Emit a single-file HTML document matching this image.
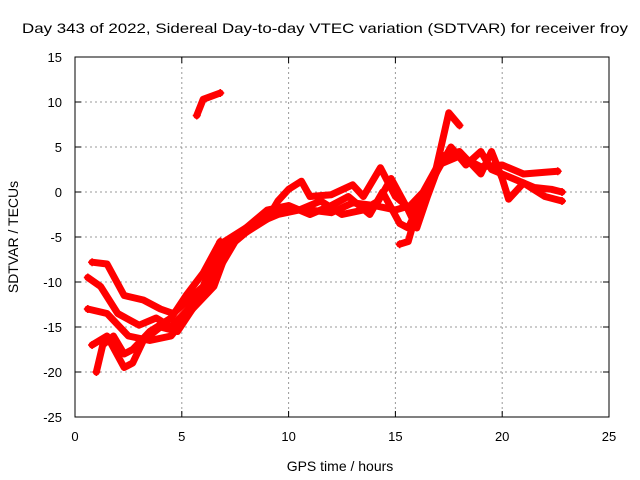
<!DOCTYPE html>
<html><head><meta charset="utf-8"><style>
body{margin:0;background:#fff}
svg{display:block;font-family:"Liberation Sans",sans-serif}
</style></head><body>
<svg id="chart" width="640" height="480" viewBox="0 0 640 480">
<rect width="640" height="480" fill="#fff"/>
<text x="22" y="33" font-size="14" textLength="606" lengthAdjust="spacingAndGlyphs">Day 343 of 2022, Sidereal Day-to-day VTEC variation (SDTVAR) for receiver froy</text>
<g id="grid"></g>
<g id="axes"></g>
<g id="series"></g>
<text x="340" y="471" font-size="14" text-anchor="middle">GPS time / hours</text>
<text transform="translate(18,237) rotate(-90)" font-size="14" text-anchor="middle">SDTVAR / TECUs</text>
</svg>
<script>
const xTicks=[0,5,10,15,20,25];
const yTicks=[15,10,5,0,-5,-10,-15,-20,-25];
const s1=[[0.8,-7.8],[1.5,-8],[2.3,-11.5],[3.2,-12],[4,-13],[4.6,-13.5],[5.3,-12],[6,-10.5],[6.6,-7],[7,-5.5],[8,-4],[9,-2.5],[10,-2],[11,-2],[12,-2.3],[13,-1.2],[14,-1.5],[15,-2],[15.7,-1.5],[16.3,0],[17,3],[18,4],[19,2.8],[20,3],[21,2],[22,2.2],[22.6,2.3]];
const s2=[[0.6,-9.5],[1.2,-10.5],[2,-13.5],[3,-14.8],[3.8,-14],[4.5,-15],[5.3,-13],[6.5,-9],[7,-6.5],[8,-4.5],[9,-3],[9.5,-1],[10,0.3],[10.6,1.2],[11,-0.5],[12,-0.3],[13,0.8],[13.5,-0.5],[14.3,2.7],[15,-0.5],[15.5,-1.5],[16.2,-2],[16.8,1.5],[17.5,8.8],[18,7.4]];
const s3=[[0.6,-13],[1.5,-13.5],[2.5,-16],[3.5,-16.5],[4.5,-16],[5.5,-13],[6.5,-10.5],[7.2,-6],[8,-4],[9,-2],[10,-1.5],[11,-2.5],[12,-1.5],[12.8,-0.5],[13.8,-2.5],[14.4,0],[15.2,-3.5],[15.6,-4],[16.2,-1],[17,2.5],[17.6,5],[18.3,3],[19,4.5],[19.5,2.5],[20.5,1.5],[21.5,0.5],[22.3,0.3],[22.8,0]];
const s4=[[0.8,-17],[1.5,-16],[2.3,-19.5],[2.7,-19],[3.2,-16.5],[4,-15],[4.8,-15.5],[5.5,-13],[6.5,-9.5],[7.5,-5.5],[8.5,-3.5],[9.5,-2.5],[10.5,-2],[11.5,-1],[12.5,-2.5],[13.5,-2],[14.2,-1],[14.8,1.5],[15.6,-2],[16,-4],[16.5,-0.5],[17.2,4],[18,4.5],[19,2],[19.5,4.5],[20,1.5],[20.3,-0.8],[21,1],[22,-0.5],[22.8,-1]];
const s5=[[1.0,-20],[1.3,-17],[1.8,-16],[2.3,-18],[2.7,-17.5],[3.5,-15.5],[4.5,-14],[5.2,-11.5],[6,-9],[6.8,-5.5]];
const s6=[[15.2,-5.8],[15.6,-5.5],[15.9,-3]];
const s7=[[5.7,8.5],[6.0,10.3],[6.8,11]];
const allSeries=[s1,s2,s3,s4,s5,s6,s7];
const X=v=>75+v*(534/25), Y=v=>192-v*9;
const NS="http://www.w3.org/2000/svg";
const grid=document.getElementById('grid'),axes=document.getElementById('axes'),ser=document.getElementById('series');
function mk(t,a,p){const e=document.createElementNS(NS,t);for(const k in a)e.setAttribute(k,a[k]);p.appendChild(e);return e;}
xTicks.forEach(t=>{
 if(t>0&&t<25){const l=mk('line',{x1:X(t),x2:X(t),y1:57,y2:417,stroke:'#999','stroke-dasharray':'2,3'},grid);}
 const tk=mk('path',{d:`M${X(t)},417v-6M${X(t)},57v6`,stroke:'#000'},axes);
 
 
 const tx=mk('text',{x:X(t),y:441,'font-size':13,'text-anchor':'middle'},axes);tx.textContent=t;
 
 
});
yTicks.forEach(t=>{
 if(t<15&&t>-25){const l=mk('line',{x1:75,x2:609,y1:Y(t),y2:Y(t),stroke:'#999','stroke-dasharray':'2,3'},grid);}
 const tk=mk('path',{d:`M75,${Y(t)}h6M609,${Y(t)}h-6`,stroke:'#000'},axes);
 
 
 const tx=mk('text',{x:62,y:Y(t)+5,'font-size':13,'text-anchor':'end'},axes);tx.textContent=t;
 
 
});
const frame=mk('rect',{x:75,y:57,width:534,height:360,fill:'none',stroke:'#000'},axes);


allSeries.forEach((s,i)=>{
 const p=mk('polyline',{points:s.map(d=>X(d[0])+','+Y(d[1])).join(' '),fill:'none',stroke:'#f00','stroke-width':7,'stroke-linejoin':'round','stroke-linecap':'round'},ser);
 
 
 [s[0],s[s.length-1]].forEach(d=>{
  const m=mk('path',{d:`M${X(d[0])-4},${Y(d[1])}h8M${X(d[0])},${Y(d[1])-4}v8`,stroke:'#f00','stroke-width':1.5},ser);
  
  
 });
});
</script>
</body></html>
